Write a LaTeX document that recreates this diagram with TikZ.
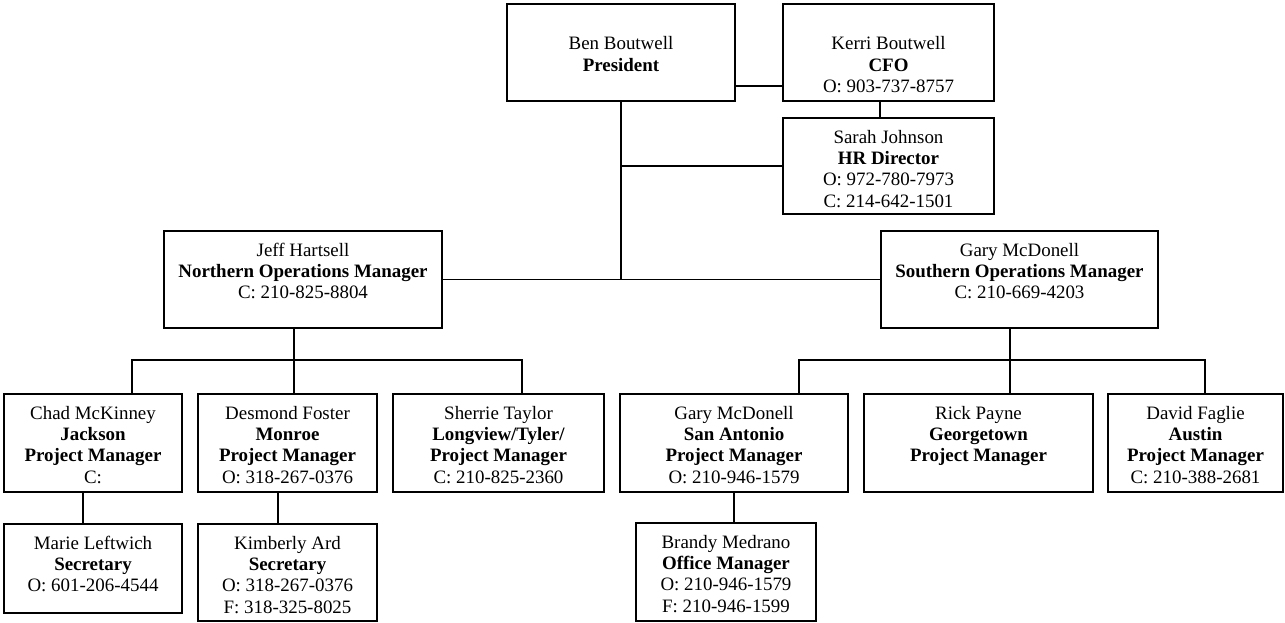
\documentclass[tikz,border=0pt]{standalone}
\usepackage{fontspec}
\setmainfont{Liberation Serif}
\usetikzlibrary{positioning}

\newlength\pxu
\setlength\pxu{0.75pt}
% width, height (px), top padding, text
\newcommand{\cardtext}[4]{\parbox[t][#2\pxu][t]{#1\pxu}{\centering\vspace*{#3}\strut#4}}

\begin{document}
\begin{tikzpicture}[
    x=0.75pt, y=-0.75pt,
    card/.style={draw, line width=1.5pt, anchor=north west, inner sep=0pt, font=\fontsize{14.2}{16.1}\selectfont},
    link/.style={line width=1.3pt}
]
    \useasboundingbox (0,0) rectangle (1285,622);

    % top level
    \node[card] (pres) at (506,3) {\cardtext{228}{97}{23.2pt}{Ben Boutwell\\\textbf{President}}};
    \node[card] (cfo) at (782,3) {\cardtext{211}{97}{23.2pt}{Kerri Boutwell\\\textbf{CFO}\\O: 903-737-8757}};
    \node[card] (hr) at (782,117) {\cardtext{211}{96}{7.5pt}{Sarah Johnson\\\textbf{HR Director}\\O: 972-780-7973\\C: 214-642-1501}};

    % operations managers
    \node[card] (nops) at (163,230) {\cardtext{278}{97}{7.5pt}{Jeff Hartsell\\\textbf{Northern Operations Manager}\\C: 210-825-8804}};
    \node[card] (sops) at (880,230) {\cardtext{277}{97}{7.5pt}{Gary McDonell\\\textbf{Southern Operations Manager}\\C: 210-669-4203}};

    % project managers
    \node[card] (chad) at (3,393) {\cardtext{178}{98}{7.5pt}{Chad McKinney\\\textbf{Jackson}\\\textbf{Project Manager}\\C:}};
    \node[card] (desmond) at (197,393) {\cardtext{179}{98}{7.5pt}{Desmond Foster\\\textbf{Monroe}\\\textbf{Project Manager}\\O: 318-267-0376}};
    \node[card] (sherrie) at (392,393) {\cardtext{211}{98}{7.5pt}{Sherrie Taylor\\\textbf{Longview/Tyler/}\\\textbf{Project Manager}\\C: 210-825-2360}};
    \node[card] (garysa) at (619,393) {\cardtext{228}{98}{7.5pt}{Gary McDonell\\\textbf{San Antonio}\\\textbf{Project Manager}\\O: 210-946-1579}};
    \node[card] (rick) at (863,393) {\cardtext{229}{98}{7.5pt}{Rick Payne\\\textbf{Georgetown}\\\textbf{Project Manager}}};
    \node[card] (david) at (1107,393) {\cardtext{175}{98}{7.5pt}{David Faglie\\\textbf{Austin}\\\textbf{Project Manager}\\C: 210-388-2681}};

    % office staff
    \node[card] (marie) at (3,523) {\cardtext{178}{89}{7.5pt}{Marie Leftwich\\\textbf{Secretary}\\O: 601-206-4544}};
    \node[card] (kim) at (197,523) {\cardtext{179}{97}{7.5pt}{Kimberly Ard\\\textbf{Secretary}\\O: 318-267-0376\\F: 318-325-8025}};
    \node[card] (brandy) at (635,522) {\cardtext{180}{98}{7.5pt}{Brandy Medrano\\\textbf{Office Manager}\\O: 210-946-1579\\F: 210-946-1599}};

    % connectors, top
    \coordinate (pc) at ([yshift=12pt]pres.south east);
    \coordinate (ch) at (880,0);
    \draw[link] (pc) -- (pc -| cfo.west);
    \draw[link] (cfo.south -| ch) -- (hr.north -| ch);
    \draw[link] (pres.south) -- (pres.south |- nops.east);
    \draw[link] (pres.south |- hr.west) -- (hr.west);
    \draw[link] (nops.east) -- (sops.west);

    % connectors, north
    \coordinate (nb1) at (132,360);
    \coordinate (nb2) at (294,360);
    \coordinate (nb3) at (522,360);
    \draw[link] (nops.south -| nb2) -- (nb2);
    \draw[link] (chad.north -| nb1) -- (nb1) -- (nb3) -- (sherrie.north -| nb3);
    \draw[link] (nb2) -- (desmond.north -| nb2);

    % connectors, south
    \coordinate (sb1) at (799,360);
    \coordinate (sb2) at (1010,360);
    \coordinate (sb3) at (1205,360);
    \draw[link] (sops.south -| sb2) -- (sb2);
    \draw[link] (garysa.north -| sb1) -- (sb1) -- (sb3) -- (david.north -| sb3);
    \draw[link] (sb2) -- (rick.north -| sb2);

    % connectors, staff
    \coordinate (cm) at (83,0);
    \coordinate (dk) at (278,0);
    \coordinate (gb) at (734,0);
    \draw[link] (chad.south -| cm) -- (marie.north -| cm);
    \draw[link] (desmond.south -| dk) -- (kim.north -| dk);
    \draw[link] (garysa.south -| gb) -- (brandy.north -| gb);
\end{tikzpicture}
\end{document}
